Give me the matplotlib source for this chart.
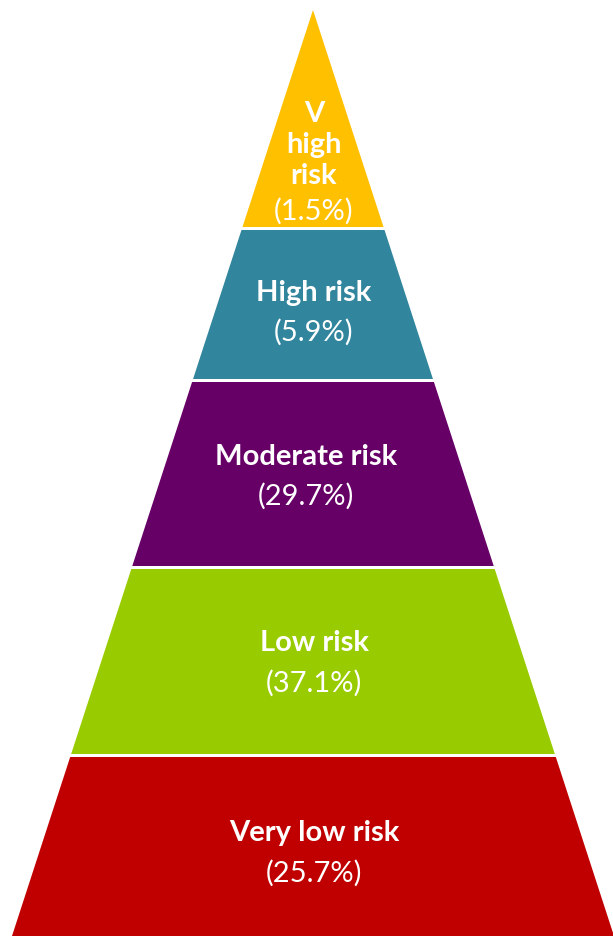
import matplotlib.pyplot as plt
from matplotlib.patches import Polygon

# data
labels = ['V\nhigh\nrisk', 'High risk', 'Moderate risk', 'Low risk', 'Very low risk']
shares = [1.5, 5.9, 29.7, 37.1, 25.7]
colors = ['#FFC000', '#31859C', '#660066', '#99CC00', '#C00000']

# layout (pixel units, y downwards)
W, H = 613, 937
apex_x, apex_y = 313, 11
base_half = 301
bands = [(11, 228), (231, 380), (383, 567), (570, 755), (758, 937)]
text_x = [314, 314, 306, 314, 314]
label_y = [145, 293, 457, 643, 833]
pct_y = [211, 332, 496, 683, 873]

slope = base_half / (H - apex_y)


def half_width(y):
    return (y - apex_y) * slope


fig = plt.figure(figsize=(W / 100, H / 100), dpi=100)
ax = fig.add_axes([0, 0, 1, 1])
ax.set_xlim(0, W)
ax.set_ylim(H, 0)
ax.axis('off')

for (top, bot), col in zip(bands, colors):
    ht, hb = half_width(top), half_width(bot)
    pts = [(apex_x - ht, top), (apex_x + ht, top),
           (apex_x + hb, bot), (apex_x - hb, bot)]
    ax.add_patch(Polygon(pts, closed=True, facecolor=col, edgecolor='none'))

for lab, val, tx, ly, py in zip(labels, shares, text_x, label_y, pct_y):
    ax.text(tx, ly, lab, ha='center', va='center', color='white',
            fontsize=21, fontweight='bold', family='Lato', linespacing=1.25)
    ax.text(tx, py, f'({val}%)', ha='center', va='center', color='white',
            fontsize=21, family='Lato')

fig.savefig('out.png', dpi=100)
